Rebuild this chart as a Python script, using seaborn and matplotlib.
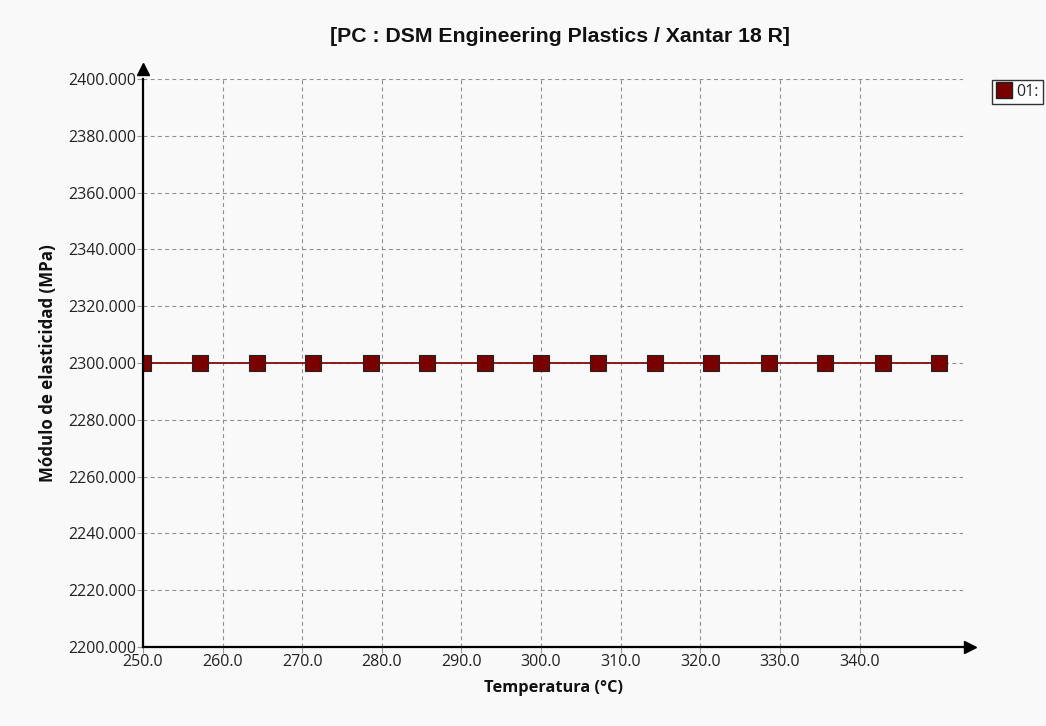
import pandas as pd
import matplotlib
matplotlib.use("Agg")
import matplotlib.pyplot as plt
from matplotlib.lines import Line2D
import seaborn as sns

# data
temperatura = [250.0, 257.1, 264.3, 271.4, 278.6, 285.7, 292.9, 300.0,
               307.1, 314.3, 321.4, 328.6, 335.7, 342.9, 350.0]
modulo = [2300.0, 2300.0, 2300.0, 2300.0, 2300.0, 2300.0, 2300.0, 2300.0,
          2300.0, 2300.0, 2300.0, 2300.0, 2300.0, 2300.0, 2300.0]
x_ticks = [250, 260, 270, 280, 290, 300, 310, 320, 330, 340]
y_ticks = [2200, 2220, 2240, 2260, 2280, 2300, 2320, 2340, 2360, 2380, 2400]
serie = "01:"

df = pd.DataFrame({"temp": temperatura, "mod": modulo})

sns.set_theme(style="white")
plt.rcParams["font.family"] = ["Open Sans", "DejaVu Sans"]

bg = "#f9f9f9"
fig = plt.figure(figsize=(10.46, 7.26), dpi=100, facecolor=bg)
ax = fig.add_axes([143 / 1046, 1 - 647 / 726, (963 - 143) / 1046, (647 - 79) / 726])
ax.set_facecolor(bg)

sns.lineplot(data=df, x="temp", y="mod", ax=ax, color="#8b1a1a", lw=1.4,
             marker="s", markersize=11, markerfacecolor="#7a0000",
             markeredgecolor="#222222", markeredgewidth=0.8, zorder=5)

ax.set_xlim(250, 353.0)
ax.set_ylim(2200, 2400)
ax.set_xticks(x_ticks)
ax.set_yticks(y_ticks)
ax.set_xticklabels([f"{t:.1f}" for t in x_ticks], fontsize=11.5, color="#222222")
ax.set_yticklabels([f"{t:.3f}" for t in y_ticks], fontsize=11.5, color="#222222")
ax.tick_params(axis="both", length=4, width=0.8, color="#999999", pad=1,
               bottom=True, left=True)

ax.grid(True, ls=(0, (3.5, 3)), color="#8f8f8f", lw=0.8)
for side in ["top", "right"]:
    ax.spines[side].set_visible(False)
for side in ["left", "bottom"]:
    ax.spines[side].set_color("black")
    ax.spines[side].set_linewidth(1.6)
    ax.spines[side].set_zorder(6)

# arrow heads at the axis ends
ax.plot([0], [1.018], marker="^", color="black", ms=9, transform=ax.transAxes,
        clip_on=False, zorder=7)
ax.plot([1.008], [0], marker=">", color="black", ms=9, transform=ax.transAxes,
        clip_on=False, zorder=7)

ax.set_xlabel("Temperatura (°C)", fontsize=11.8, fontweight="bold", labelpad=7,
              color="#111111")
ax.set_ylabel("Módulo de elasticidad (MPa)", fontsize=12.2, fontweight="bold",
              labelpad=8, color="#111111")

fig.text(560 / 1046, 1 - 36 / 726, "[PC : DSM Engineering Plastics / Xantar 18 R]",
         ha="center", va="center", fontsize=15.3, fontweight="bold",
         family=["Liberation Sans Narrow", "Liberation Sans", "DejaVu Sans"],
         color="#111111")

handle = Line2D([], [], ls="none", marker="s", ms=11, markerfacecolor="#7a0000",
                markeredgecolor="#222222")
leg = fig.legend([handle], [serie], loc="upper right",
                 bbox_to_anchor=(1043 / 1046, 1 - 80 / 726), fontsize=11.5,
                 frameon=True, fancybox=False, handlelength=1.0,
                 handletextpad=0.3, borderpad=0.25, borderaxespad=0)
leg.get_frame().set_edgecolor("black")
leg.get_frame().set_linewidth(1.0)
leg.get_frame().set_facecolor("white")

fig.savefig("out.png", dpi=100, facecolor=bg)
